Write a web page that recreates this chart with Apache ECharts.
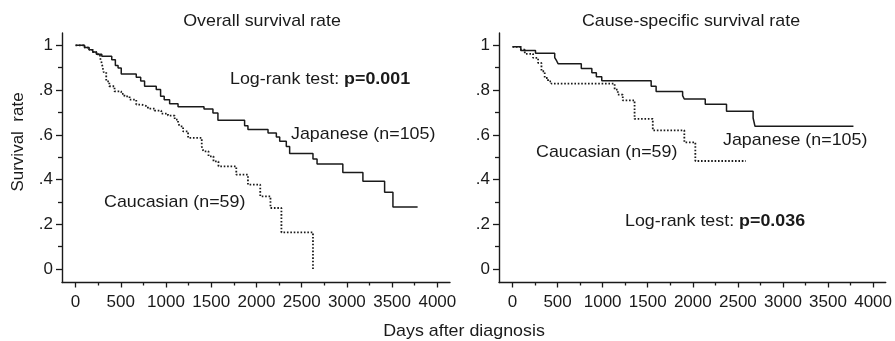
<!DOCTYPE html>
<html><head><meta charset="utf-8">
<script src="https://cdn.jsdelivr.net/npm/echarts@6/dist/echarts.min.js"></script>
<style>html,body{margin:0;padding:0;background:#fff}#c{width:895px;height:341px}</style>
</head><body><div id="c"></div>
<script>
// Kaplan-Meier step points [days, survival]
const overallJapanese = [[0,1.0],[100,0.99],[150,0.98],[190,0.97],[230,0.96],[290,0.951],[400,0.936],[440,0.91],[470,0.899],[505,0.872],[671,0.857],[720,0.84],[763,0.817],[892,0.802],[940,0.772],[980,0.757],[1040,0.739],[1133,0.725],[1420,0.715],[1519,0.698],[1574,0.665],[1869,0.641],[1906,0.624],[2128,0.608],[2220,0.59],[2257,0.571],[2330,0.548],[2367,0.516],[2625,0.492],[2670,0.47],[2955,0.432],[3177,0.392],[3417,0.343],[3509,0.277],[3782,0.277]];
const overallCaucasian = [[0,1.0],[100,0.99],[150,0.98],[190,0.97],[230,0.96],[270,0.945],[290,0.92],[310,0.88],[339,0.839],[373,0.817],[431,0.794],[505,0.783],[540,0.772],[597,0.757],[671,0.735],[727,0.727],[800,0.717],[874,0.708],[948,0.695],[1022,0.686],[1096,0.668],[1133,0.653],[1152,0.638],[1189,0.615],[1244,0.586],[1395,0.548],[1414,0.526],[1470,0.504],[1525,0.481],[1580,0.459],[1777,0.422],[1906,0.377],[2042,0.325],[2155,0.273],[2276,0.164],[2625,0.0]];
const causeJapanese = [[0,0.993],[92,0.977],[255,0.964],[468,0.945],[490,0.93],[505,0.918],[763,0.896],[880,0.877],[930,0.859],[990,0.842],[1538,0.817],[1593,0.794],[1887,0.775],[1905,0.76],[2138,0.737],[2374,0.705],[2669,0.675],[2690,0.638],[3782,0.638]];
const causeCaucasian = [[0,0.993],[92,0.981],[136,0.962],[228,0.944],[284,0.921],[321,0.884],[357,0.854],[394,0.839],[431,0.829],[1133,0.802],[1168,0.78],[1223,0.754],[1354,0.671],[1556,0.62],[1906,0.566],[2028,0.483],[2588,0.483]];
const xTicks = [0,500,1000,1500,2000,2500,3000,3500,4000];
const xMinorTicks = [250,750,1250,1750,2250,2750,3250,3750];
const yTicks = [0,0.2,0.4,0.6,0.8,1];
const yMinorTicks = [0.1,0.3,0.5,0.7,0.9];
const panelTitles = ['Overall survival rate','Cause-specific survival rate'];

const ink = '#1a1a1a';
const font = 'Liberation Sans, Arial, sans-serif';
const fs = 17;
const sx = 1.05;
const chart = echarts.init(document.getElementById('c'), null, {renderer:'canvas'});
const lefts = [62, 499];
const grids = lefts.map(l => ({left:l, top:33, width:388, height:249.5}));
const xAxes = [], yAxes = [];
grids.forEach((g, i) => {
  const base = {gridIndex:i, type:'value', min:-150, max:4140, position:'bottom', splitLine:{show:false}};
  xAxes.push(Object.assign({}, base, {
    axisLine:{show:true, onZero:false, lineStyle:{color:ink, width:1.4}},
    axisTick:{show:true, customValues:xTicks, length:5, lineStyle:{color:ink, width:1.3}},
    axisLabel:{show:true, customValues:xTicks, margin:11, color:ink, fontSize:fs, fontFamily:font,
      formatter: v => String(v)}
  }));
  xAxes.push(Object.assign({}, base, {
    axisLine:{show:false, onZero:false},
    axisTick:{show:true, customValues:xMinorTicks, length:3, lineStyle:{color:ink, width:1.3}},
    axisLabel:{show:false}
  }));
  const ybase = {gridIndex:i, type:'value', min:-0.06, max:1.055, position:'left', splitLine:{show:false}};
  yAxes.push(Object.assign({}, ybase, {
    axisLine:{show:true, onZero:false, lineStyle:{color:ink, width:1.4}},
    axisTick:{show:true, customValues:yTicks, length:6, lineStyle:{color:ink, width:1.3}},
    axisLabel:{show:true, customValues:yTicks, margin:9, color:ink, fontSize:fs, fontFamily:font,
      formatter: v => (v === 0 ? '0' : v === 1 ? '1' : String(+v.toFixed(1)).replace(/^0/, ''))}
  }));
  yAxes.push(Object.assign({}, ybase, {
    axisLine:{show:false, onZero:false},
    axisTick:{show:true, customValues:yMinorTicks, length:4, lineStyle:{color:ink, width:1.3}},
    axisLabel:{show:false}
  }));
});
function km(data, panel, dotted) {
  return {type:'line', step:'end', data:data, xAxisIndex:panel*2, yAxisIndex:panel*2,
    showSymbol:false, symbol:'none', silent:true,
    lineStyle: dotted ? {color:ink, width:1.8, type:[1.6,1.8]} : {color:ink, width:1.5}};
}
function txt(x, y, text, align) {
  return {type:'text', x:x, y:y, scaleX:sx, style:{text:text, fill:ink, font: fs + 'px ' + font, textAlign: align || 'left', textVerticalAlign:'middle'}};
}
const rich = {b:{fontWeight:'bold', fontSize:fs, fontFamily:font, fill:ink}, n:{fontSize:fs, fontFamily:font, fill:ink}};
chart.setOption({
  animation:false,
  grid: grids,
  xAxis: xAxes,
  yAxis: yAxes,
  series: [km(overallJapanese,0,false), km(overallCaucasian,0,true), km(causeJapanese,1,false), km(causeCaucasian,1,true)],
  graphic: [
    txt(262, 21, panelTitles[0], 'center'),
    txt(691, 21, panelTitles[1], 'center'),
    {type:'text', x:230, y:79, scaleX:sx, style:{text:'{n|Log-rank test: }{b|p=0.001}', rich:rich, textVerticalAlign:'middle'}},
    txt(291, 134, 'Japanese (n=105)'),
    txt(104, 202, 'Caucasian (n=59)'),
    txt(723, 140, 'Japanese (n=105)'),
    txt(536, 152, 'Caucasian (n=59)'),
    {type:'text', x:625, y:221, scaleX:sx, style:{text:'{n|Log-rank test: }{b|p=0.036}', rich:rich, textVerticalAlign:'middle'}},
    {type:'text', x:18, y:142, rotation:Math.PI/2, style:{text:'Survival  rate', fill:ink, font: fs+'px '+font, textAlign:'center', textVerticalAlign:'middle'}},
    txt(464, 331, 'Days after diagnosis', 'center')
  ]
});
</script></body></html>
